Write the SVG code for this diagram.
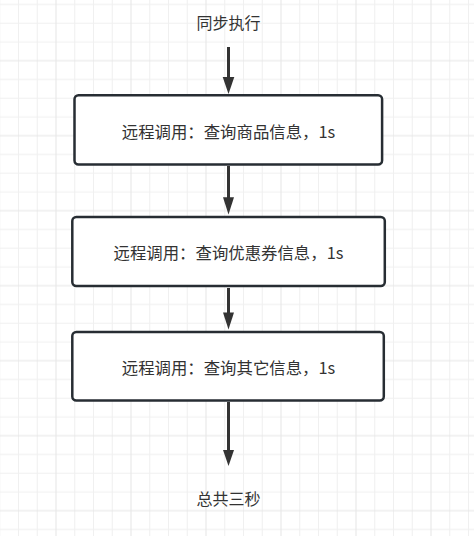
<svg xmlns="http://www.w3.org/2000/svg" width="474" height="536" viewBox="0 0 474 536">
<style>
.box{fill:#ffffff;stroke:#272d33;stroke-width:2.5}
.lbl{font-family:"Noto Sans CJK SC","Noto Sans",sans-serif;fill:#333333;text-anchor:middle;dominant-baseline:central}
.t16{font-size:16px}
.t18{font-size:16.4px}
.edge{stroke:#333333;stroke-width:3;fill:none}
.head{fill:#333333}
</style>
<defs>
<pattern id="grid" patternUnits="userSpaceOnUse" x="56" y="60.7" width="75" height="75">
<rect x="0" y="0" width="75" height="75" fill="#ffffff"/>
<g fill="#f0f0f0">
<rect x="18.25" y="0" width="1" height="75"/>
<rect x="37" y="0" width="1" height="75"/>
<rect x="55.75" y="0" width="1" height="75"/>
<rect x="0" y="18.25" width="75" height="1"/>
<rect x="0" y="37" width="75" height="1"/>
<rect x="0" y="55.75" width="75" height="1"/>
</g>
<g fill="#e6e6e6">
<rect x="-0.5" y="0" width="1" height="75"/>
<rect x="74.5" y="0" width="1" height="75"/>
<rect x="0" y="-0.5" width="75" height="1"/>
<rect x="0" y="74.5" width="75" height="1"/>
</g>
</pattern>
</defs>
<rect x="0" y="0" width="474" height="536" fill="url(#grid)"/>
<g id="connectors">
<line class="edge" x1="228.5" y1="47" x2="228.5" y2="78"/>
<polygon class="head" points="222.7,77 234.3,77 228.5,94"/>
<line class="edge" x1="228.5" y1="166" x2="228.5" y2="198"/>
<polygon class="head" points="223,197.3 234,197.3 228.5,214.5"/>
<line class="edge" x1="228.5" y1="288" x2="228.5" y2="313"/>
<polygon class="head" points="223,312.5 234,312.5 228.5,329.5"/>
<line class="edge" x1="228.5" y1="402" x2="228.5" y2="451"/>
<polygon class="head" points="223,450 234,450 228.5,466"/>
</g>
<g id="start">
<text class="lbl t16" x="228.5" y="22">同步执行</text>
</g>
<g id="node1">
<rect class="box" x="74.5" y="95.3" width="307.6" height="69.2" rx="4"/>
<text class="lbl t18" x="228.5" y="131">远程调用：查询商品信息，1s</text>
</g>
<g id="node2">
<rect class="box" x="72.3" y="217" width="312.5" height="69" rx="4"/>
<text class="lbl t18" x="228.5" y="251.5">远程调用：查询优惠券信息，1s</text>
</g>
<g id="node3">
<rect class="box" x="72.3" y="332" width="311.5" height="68.5" rx="4"/>
<text class="lbl t18" x="228.5" y="367">远程调用：查询其它信息，1s</text>
</g>
<g id="end">
<text class="lbl t16" x="228.5" y="497.5">总共三秒</text>
</g>
</svg>
